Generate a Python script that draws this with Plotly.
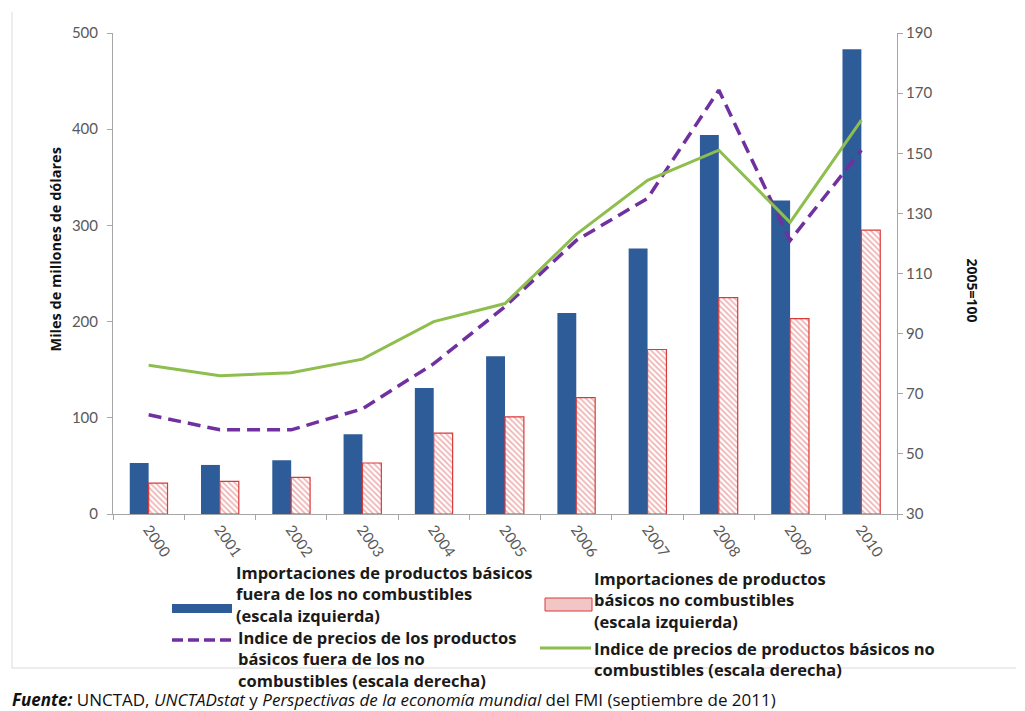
import plotly.graph_objects as go

# ---------------- data ----------------
years = ["2000", "2001", "2002", "2003", "2004", "2005", "2006", "2007", "2008", "2009", "2010"]
imports_fuera = [53, 51, 56, 83, 131, 164, 209, 276, 394, 326, 483]          # left axis
imports_no_comb = [32, 34, 38, 53, 84, 101, 121, 171, 225, 203, 295]         # left axis
idx_fuera = [63, 58, 58, 65, 80, 99, 121, 135, 171, 121, 151]                # right axis
idx_no_comb = [79.5, 76, 77, 81.5, 94, 100, 123, 141, 151, 127, 161]         # right axis

names = [
    "Importaciones de productos básicos<br>fuera de los no combustibles<br>(escala izquierda)",
    "Importaciones de productos<br>básicos no combustibles<br>(escala izquierda)",
    "Indice de precios de los productos<br>básicos fuera de los no<br>combustibles (escala derecha)",
    "Indice de precios de productos básicos no<br>combustibles (escala derecha)",
]
left_ticks = [0, 100, 200, 300, 400, 500]
right_ticks = [30, 50, 70, 90, 110, 130, 150, 170, 190]

BLUE = "#2E5C98"
RED = "#D93A3A"
PURPLE = "#7030A0"
GREEN = "#8DBE4E"
FONT = "Lato"
FONT2 = "Open Sans"

# ---------------- layout geometry (pixels) ----------------
W, H = 1025, 711
L, R, T, B = 113, 897, 33, 514


def px(x):
    return (x - L) / (R - L)


def py(y):
    return (B - y) / (B - T)


fig = go.Figure()

fig.add_trace(go.Bar(
    x=years, y=imports_fuera, name="fuera", marker=dict(color=BLUE, line=dict(width=0)),
    showlegend=False, yaxis="y",
))
fig.add_trace(go.Bar(
    x=years, y=imports_no_comb, name="no comb", showlegend=False, yaxis="y",
    marker=dict(color="white", line=dict(color=RED, width=1.2),
                pattern=dict(shape="\\", fgcolor="#E06060", bgcolor="white", size=4, solidity=0.4)),
))
fig.add_trace(go.Scatter(
    x=years, y=idx_fuera, mode="lines", showlegend=False, yaxis="y2",
    line=dict(color=PURPLE, width=3.5, dash="13px,7px"),
))
fig.add_trace(go.Scatter(
    x=years, y=idx_no_comb, mode="lines", showlegend=False, yaxis="y2",
    line=dict(color=GREEN, width=3),
))

axis_gray = "#A6A6A6"
tick_font = dict(family=FONT, size=15, color="#595959")

fig.update_layout(
    width=W, height=H,
    margin=dict(l=L, r=W - R, t=T, b=H - B),
    paper_bgcolor="white", plot_bgcolor="white",
    barmode="group", bargap=0.47, bargroupgap=0.0,
    showlegend=False,
    font=dict(family=FONT),
    xaxis=dict(
        type="category", showgrid=False, showline=True, linecolor=axis_gray, linewidth=1,
        ticks="outside", tickson="boundaries", ticklen=5, tickcolor=axis_gray,
        tickangle=55, tickfont=dict(family=FONT, size=15, color="#595959"),
    ),
    yaxis=dict(
        range=[0, 500], tickvals=left_ticks, showgrid=False, zeroline=False,
        showline=True, linecolor=axis_gray, linewidth=1,
        ticks="outside", ticklen=5, tickcolor=axis_gray, tickfont=tick_font,
        ticklabelstandoff=6,
    ),
    yaxis2=dict(
        range=[30, 190], tickvals=right_ticks, overlaying="y", side="right",
        showgrid=False, zeroline=False, showline=True, linecolor=axis_gray, linewidth=1,
        ticks="outside", ticklen=5, tickcolor=axis_gray, tickfont=tick_font,
    ),
)

# axis titles
fig.add_annotation(text="<b>Miles de millones de dólares</b>", xref="paper", yref="paper",
                   x=px(44), y=py(250), textangle=-90, showarrow=False,
                   font=dict(family=FONT2, size=14.5, color="#111111"))
fig.add_annotation(text="<b>2005=100</b>", xref="paper", yref="paper",
                   x=px(984), y=py(290), textangle=90, showarrow=False,
                   font=dict(family=FONT2, size=14, color="#111111"))

# frame lines
frame = "#DADADA"
fig.add_shape(type="line", xref="paper", yref="paper", x0=px(12), x1=px(12), y0=py(12), y1=py(668),
              line=dict(color=frame, width=1))
fig.add_shape(type="line", xref="paper", yref="paper", x0=px(12), x1=px(1016), y0=py(668), y1=py(668),
              line=dict(color=frame, width=1))

# custom legend
leg_font = dict(family=FONT2, size=16.5, color="#1A1A1A")


def legend_text(name, x, top):
    fig.add_annotation(text="<b>" + name + "</b>", xref="paper", yref="paper", x=px(x), y=py(top),
                       xanchor="left", yanchor="top", align="left", showarrow=False,
                       font=leg_font, borderpad=0)


# blue bar symbol
fig.add_shape(type="rect", xref="paper", yref="paper", x0=px(172), x1=px(232), y0=py(613), y1=py(604),
              fillcolor=BLUE, line=dict(width=0))
legend_text(names[0], 235, 560)
# red hatched symbol
fig.add_shape(type="rect", xref="paper", yref="paper", x0=px(545), x1=px(592), y0=py(611), y1=py(598),
              fillcolor="#F3C6C6", line=dict(color=RED, width=1))
legend_text(names[1], 593, 566)
# purple dashed line symbol
fig.add_shape(type="line", xref="paper", yref="paper", x0=px(172), x1=px(234), y0=py(640), y1=py(640),
              line=dict(color=PURPLE, width=3.5, dash="11px,5px"))
legend_text(names[2], 237, 625)
# green line symbol
fig.add_shape(type="line", xref="paper", yref="paper", x0=px(540), x1=px(591), y0=py(648), y1=py(648),
              line=dict(color=GREEN, width=3))
legend_text(names[3], 593, 636)

# source
fig.add_annotation(
    text="<b><i>Fuente:</i></b> UNCTAD, <i>UNCTADstat</i> y <i>Perspectivas de la economía mundial</i> del FMI (septiembre de 2011)",
    xref="paper", yref="paper", x=px(10), y=py(699), xanchor="left", yanchor="middle",
    showarrow=False, font=dict(family=FONT2, size=17, color="#111111"))

fig.write_html("out.html")
